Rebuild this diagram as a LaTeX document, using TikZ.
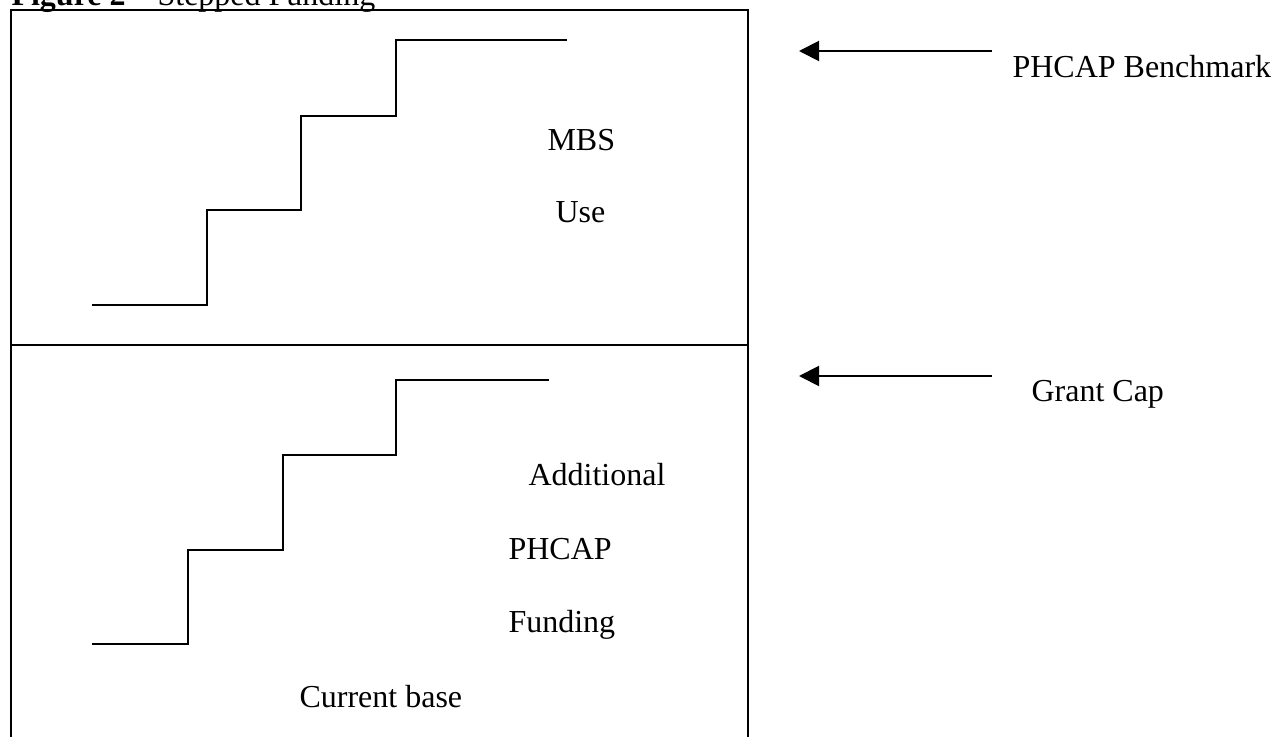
\documentclass[tikz,border=0pt]{standalone}
\usepackage{fontspec}
\setmainfont{Liberation Serif}
\usetikzlibrary{arrows.meta}

\begin{document}
\begin{tikzpicture}[x=0.375pt,y=-0.375pt,
    label_text/.style={anchor=base west,inner sep=0pt,font=\fontsize{12}{14}\selectfont},
    box_line/.style={line width=0.8pt},
    step_line/.style={line width=0.65pt},
    arrow_line/.style={line width=0.75pt,-{Triangle[length=7.5pt,width=7.5pt]}}]

    \useasboundingbox (0,0) rectangle (1272,737);
    \clip (0,0) rectangle (1272,737);

    % heading, cut at the top of the page
    \node[label_text] (title) at (11,6) {\textbf{Figure 2} – Stepped Funding};

    % the two boxes
    \draw[box_line] (11,10) rectangle (748,800);
    \draw[box_line] (11,345) -- (748,345);

    % steps in the upper box
    \draw[step_line] (92,305) -- (207,305) -- (207,210) -- (301,210) -- (301,116)
        -- (396,116) -- (396,40) -- (567,40);
    % steps in the lower box
    \draw[step_line] (92,644) -- (188,644) -- (188,550) -- (283,550) -- (283,455)
        -- (396,455) -- (396,380) -- (549,380);

    \node[label_text] (1) at (547,151) {MBS};
    \node[label_text] (2) at (555,223) {Use};

    \node[label_text] (a) at (528,486) {Additional};
    \node[label_text] (b) at (508,560) {PHCAP};
    \node[label_text] (c) at (508,633) {Funding};
    \node[label_text] (d) at (299,707) {Current base};

    \node[label_text,inner xsep=7.5pt] (bench) at (992,78) {PHCAP Benchmark};
    \node[label_text] (cap) at (1031,402) {Grant Cap};

    \coordinate (tip1) at (799,51);
    \coordinate (tip2) at (799,376);
    \draw[arrow_line] (bench.west |- tip1) -- (tip1);
    \draw[arrow_line] (bench.west |- tip2) -- (tip2);
\end{tikzpicture}
\end{document}
